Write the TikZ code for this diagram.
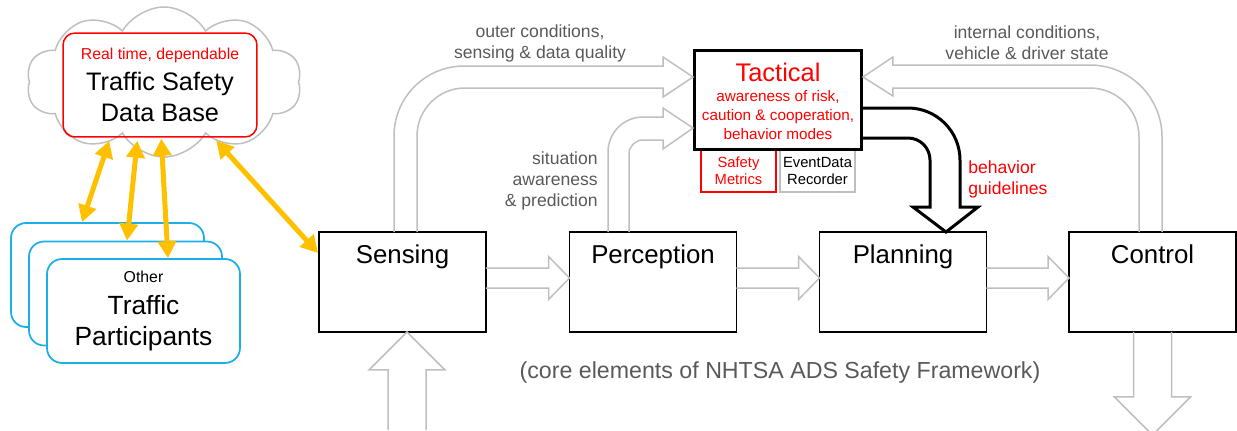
\documentclass[tikz,border=0pt]{standalone}
\usepackage{fontspec}
\setmainfont{Liberation Sans}
\usetikzlibrary{calc,arrows.meta,shapes.symbols}

\definecolor{grisclair}{RGB}{191,191,191}
\definecolor{grisfonce}{RGB}{89,89,89}
\definecolor{rouge}{RGB}{255,0,0}
\definecolor{bleuclair}{RGB}{28,174,230}
\definecolor{jaune}{RGB}{255,192,0}

\tikzset{
  bloc/.style={draw, line width=0.035cm, minimum width=3.34cm, inner sep=0pt, outer sep=0pt,
    text height=0.62cm, text depth=1.38cm, font=\fontsize{14.7}{17}\selectfont},
  creux/.style={draw=grisclair, line width=0.03cm},
  noir/.style={draw=black, line width=0.06cm},
  petit/.style={draw, line width=0.03cm, minimum width=1.5cm, minimum height=0.84cm,
    inner sep=0pt, align=center, font=\fontsize{8.4}{9.6}\selectfont},
  usager/.style={draw=bleuclair, fill=white, line width=0.035cm, rounded corners=0.3cm,
    minimum width=3.86cm, minimum height=2.08cm},
  etiq/.style={text=grisfonce, align=center, inner sep=0pt, font=\fontsize{10}{11.9}\selectfont},
  lien/.style={draw=jaune, line width=0.1cm,
    arrows={Triangle[length=0.34cm,width=0.36cm]-Triangle[length=0.34cm,width=0.36cm]}},
}

\begin{document}
\begin{tikzpicture}[x=0.02cm, y=-0.02cm]
			\useasboundingbox (0,0) rectangle (1237,430);
			%Nuage et base de donnees
			\node[cloud, draw=grisclair, line width=0.03cm, cloud puffs=10, cloud puff arc=120,
				cloud ignores aspect, minimum width=5.5cm, minimum height=3cm] (Nuage) at (164,82) {};
			\node[draw=rouge, line width=0.03cm, rounded corners=0.24cm, minimum width=3.88cm,
				minimum height=2.08cm, inner sep=0pt, align=center,
				font=\fontsize{14.4}{17.6}\selectfont] (DB) at (160,85)
				{{\color{rouge}\fontsize{9}{11}\selectfont Real time, dependable}\\Traffic Safety\\Data Base};
			%Autres usagers
			\node[usager] (TP1) at (107.5,275) {};
			\node[usager] (TP2) at (125.5,293.5) {};
			\node[usager, align=center, font=\fontsize{15}{17.9}\selectfont] (TP3) at (143.5,311)
				{{\fontsize{9}{10}\selectfont Other}\\Traffic\\Participants};
			%Blocs du cadre NHTSA
			\node[bloc] (Sens) at (402.5,282) {Sensing};
			\node[bloc] (Perc) at (653,282) {Perception};
			\node[bloc] (Plan) at (903,282) {Planning};
			\node[bloc] (Ctrl) at (1152.5,282) {Control};
			%Bloc tactique
			\node[petit, draw=rouge, text=rouge] (SM) at (738.5,171) {Safety\\Metrics};
			\node[petit, draw=grisclair] (EDR) at (817.5,171) {EventData\\Recorder};
			\node[noir, outer sep=0pt, minimum width=3.36cm, minimum height=2cm] (Tact) at (778,100) {};
			\node[anchor=base, text=rouge, font=\fontsize{14.5}{17}\selectfont] (TactTitre) at (778,81) {Tactical};
			\node[text=rouge, align=center, inner sep=0pt, font=\fontsize{8.7}{10.6}\selectfont] (TactTexte) at (778,115)
				{awareness of risk,\\caution \& cooperation,\\behavior modes};
			%Fleches creuses entre les blocs
			\foreach \a/\b in {Sens/Perc,Perc/Plan,Plan/Ctrl}
				\draw[creux] ($(\a.east)+(0,-14)$) -- ($(\b.west)+(-21,-14)$) -- ($(\b.west)+(-21,-25.5)$)
					-- ($(\b.west)+(0,-4)$) -- ($(\b.west)+(-21,17.5)$) -- ($(\b.west)+(-21,6)$) -- ($(\a.east)+(0,6)$);
			\draw[creux] ($(Sens.south)+(-14.5,98)$) -- ++(0,-60) -- ++(-19,0) -- ($(Sens.south)+(4.5,0)$)
				-- ($(Sens.south)+(42.5,38)$) -- ++(-19,0) -- ++(0,60);
			\draw[creux] ($(Ctrl.south)+(-19,0)$) -- ++(0,65) -- ++(-19,0) -- ($(Ctrl.south)+(0,103)$)
				-- ($(Ctrl.south)+(38,65)$) -- ++(-19,0) -- ++(0,-65);
			%Retours vers le bloc tactique
			\draw[creux] ($(Sens.north)+(-8.5,0)$) -- ++(0,-96) arc[start angle=180, end angle=90, radius=1.4cm]
				-- ($(Tact.west)+(-31,-34)$) -- ++(0,-9) -- ($(Tact.west)+(-1,-23)$) -- ($(Tact.west)+(-31,-3)$)
				-- ++(0,-9) -- ($(Sens.north)+(62.5,-144)$) arc[start angle=90, end angle=180, radius=0.96cm]
				-- ($(Sens.north)+(14.5,0)$);
			\draw[creux] ($(Perc.north)+(-45,0)$) -- ++(0,-80) arc[start angle=180, end angle=90, radius=0.7cm]
				-- ($(Tact.west)+(-31,17)$) -- ++(0,-9) -- ($(Tact.west)+(-1,28)$) -- ($(Tact.west)+(-31,49)$)
				-- ++(0,-9) -- ($(Perc.north)+(-10,-92)$) arc[start angle=90, end angle=180, radius=0.28cm]
				-- ($(Perc.north)+(-24,0)$);
			\draw[creux] ($(Ctrl.north)+(9.5,0)$) -- ++(0,-95) arc[start angle=0, end angle=90, radius=1.44cm]
				-- ($(Tact.east)+(31,-35)$) -- ++(0,-8) -- ($(Tact.east)+(1,-23)$) -- ($(Tact.east)+(31,-4)$)
				-- ++(0,-8) -- ($(Ctrl.north)+(-62.5,-144)$) arc[start angle=90, end angle=0, radius=0.98cm]
				-- ($(Ctrl.north)+(-13.5,0)$);
			%Consignes vers la planification
			\draw[noir] ($(Tact.east)+(0,8)$) -- ($(Plan.north)+(5,-124)$) arc[start angle=90, end angle=0, radius=1.04cm]
				-- ($(Plan.north)+(57,-25)$) -- ++(18,0) -- ($(Plan.north)+(43,0)$) -- ($(Plan.north)+(10,-25)$)
				-- ++(17,0) -- ($(Plan.north)+(27,-72)$) arc[start angle=0, end angle=90, radius=0.44cm]
				-- ($(Tact.east)+(0,38)$);
			%Etiquettes
			\node[etiq] (LblExt) at (540,43) {outer conditions,\\sensing \& data quality};
			\node[etiq] (LblInt) at (1027,43) {internal conditions,\\vehicle \& driver state};
			\node[etiq, anchor=east, align=right] (LblSit) at (598,181) {situation\\awareness\\\& prediction};
			\node[etiq, anchor=west, align=left, text=rouge] (LblComp) at (968,179) {behavior\\guidelines};
			\node[etiq, font=\fontsize{13.2}{15}\selectfont] (LblCadre) at (780,372)
				{(core elements of NHTSA ADS Safety Framework)};
			%Echanges de donnees
			\draw[lien] ($(DB.south west)+(47,3)$) -- ($(TP1.north)+(-25.5,0)$);
			\draw[lien] ($(DB.south west)+(75,3)$) -- ($(TP2.north)+(1.5,0)$);
			\draw[lien] ($(DB.south west)+(99,1)$) -- ($(TP3.north)+(24.5,0)$);
			\draw[lien] ($(DB.south west)+(154,3)$) -- ($(Sens.north west)+(-1,21)$);
		\end{tikzpicture}
\end{document}
